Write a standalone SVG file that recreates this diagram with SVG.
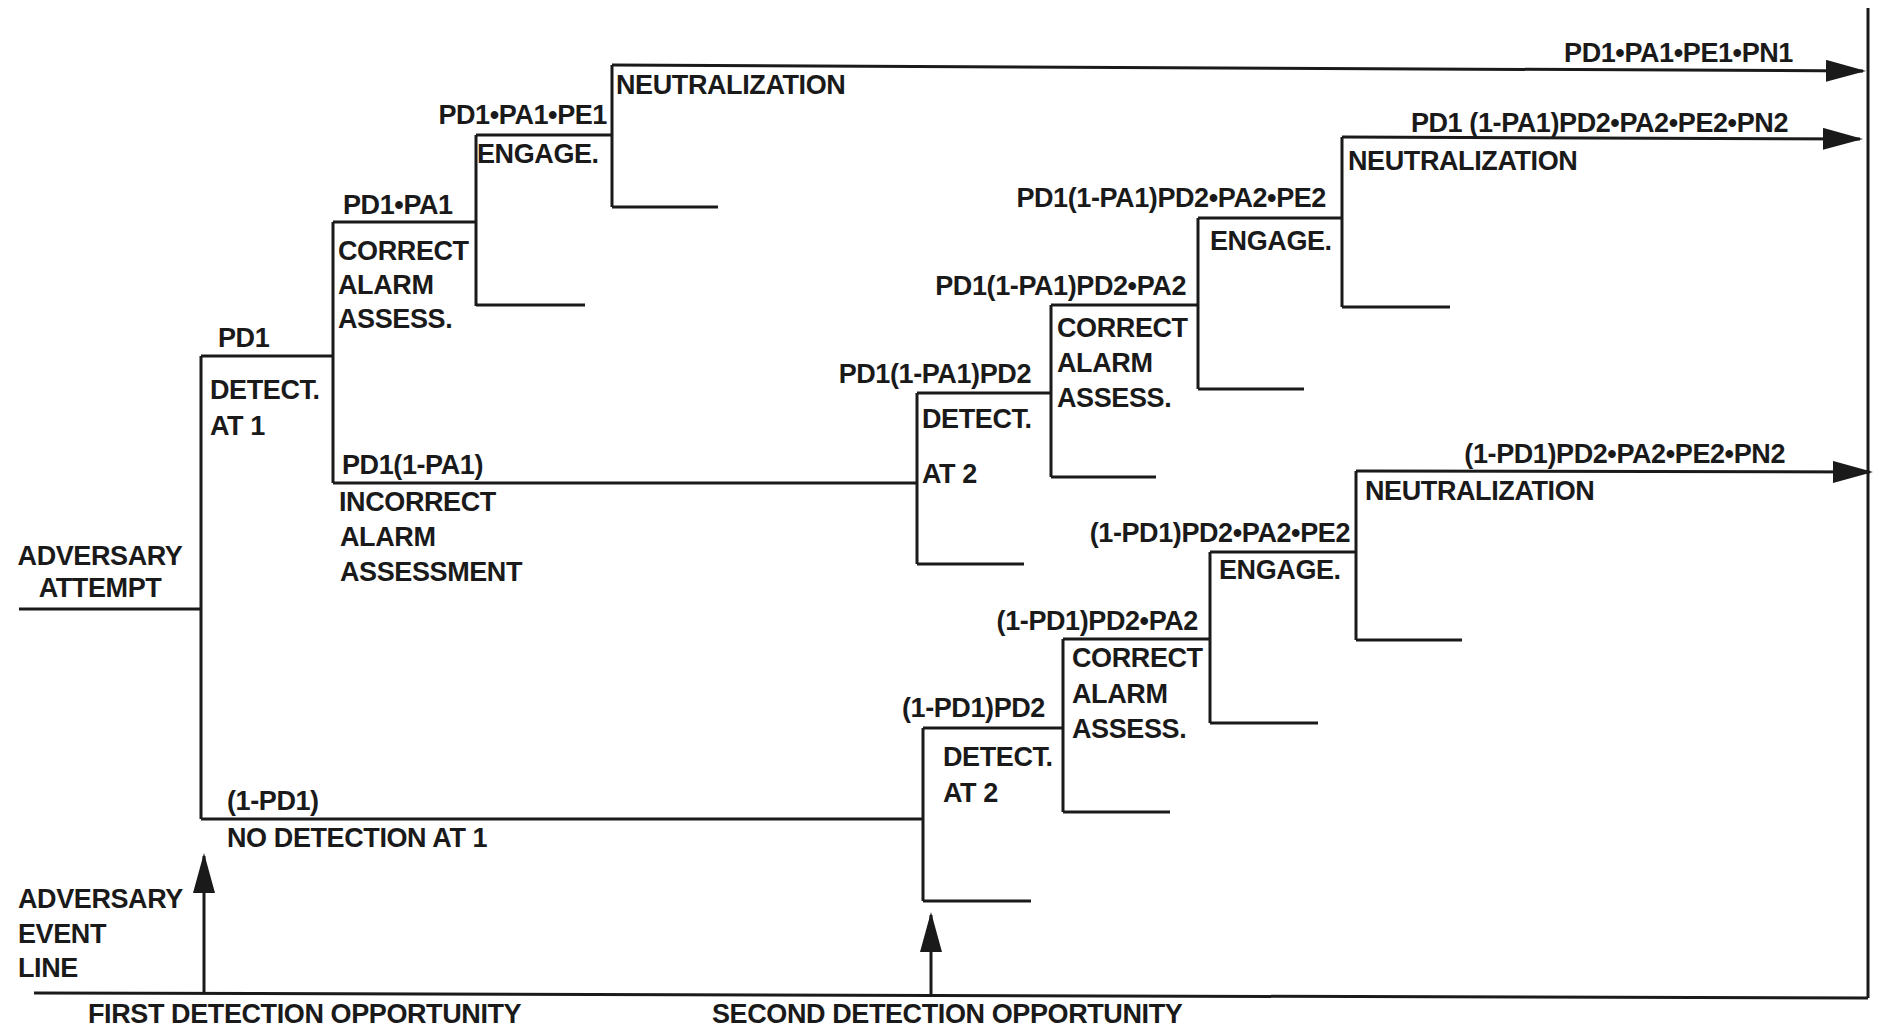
<svg xmlns="http://www.w3.org/2000/svg" width="1881" height="1029" viewBox="0 0 1881 1029">
<defs>
<marker id="arr" markerUnits="userSpaceOnUse" markerWidth="40" markerHeight="22" refX="37" refY="11" orient="auto">
<path d="M0,0 L40,11 L0,22 Z" fill="#1a1a1a"/>
</marker>
<style>
text{font-family:"Liberation Sans",Arial,sans-serif;font-weight:bold;font-size:27px;letter-spacing:-0.4px;fill:#1a1a1a}
.e{text-anchor:end}
.m{text-anchor:middle}
.ln{fill:none;stroke:#1a1a1a;stroke-width:3}
.ar{fill:none;stroke:#1a1a1a;stroke-width:3;marker-end:url(#arr)}
</style>
</defs>
<rect width="1881" height="1029" fill="#ffffff"/>
<g id="connectors">
<path class="ln" d="M19,609 H201 M201,356 V819 M201,356 H333 M333,222 V483 M333,222 H476 M476,135 V306 M476,135 H612 M612,65 V207 M612,207 H718 M476,305 H585"/>
<path class="ar" d="M612,65 L1863,71"/>
<path class="ln" d="M333,483 H917 M917,393 V564 M917,393 H1051 M917,564 H1024 M1051,305 V477 M1051,305 H1198 M1051,477 H1156 M1198,218 V389 M1198,218 H1342 M1198,389 H1304 M1342,137 V307 M1342,307 H1450"/>
<path class="ar" d="M1342,137 L1860,139"/>
<path class="ln" d="M201,819 H923 M923,728 V901 M923,728 H1063 M923,901 H1031 M1063,639 V812 M1063,639 H1210 M1063,812 H1170 M1210,552 V723 M1210,552 H1356 M1210,723 H1318 M1356,471 V640 M1356,640 H1462"/>
<path class="ar" d="M1356,471 L1870,472"/>
<path class="ln" d="M1868,8 V998 M34,993 L1868,998"/>
<path class="ar" d="M204,993 V856"/>
<path class="ar" d="M931,995 V915"/>
</g>
<g id="attempt">
<text class="m" x="100" y="565">ADVERSARY</text>
<text class="m" x="100" y="597">ATTEMPT</text>
</g>
<g id="detect1">
<text x="218" y="347">PD1</text>
<text x="210" y="399">DETECT.</text>
<text x="210" y="435">AT 1</text>
</g>
<g id="assess1">
<text x="343" y="214">PD1•PA1</text>
<text x="338" y="260">CORRECT</text>
<text x="338" y="294">ALARM</text>
<text x="338" y="328">ASSESS.</text>
</g>
<g id="engage1">
<text class="e" x="607" y="124">PD1•PA1•PE1</text>
<text x="477" y="163">ENGAGE.</text>
</g>
<g id="neutral1">
<text x="616" y="94">NEUTRALIZATION</text>
<text class="e" x="1793" y="62">PD1•PA1•PE1•PN1</text>
</g>
<g id="incorrect1">
<text x="342" y="474">PD1(1-PA1)</text>
<text x="339" y="511">INCORRECT</text>
<text x="340" y="546">ALARM</text>
<text x="340" y="581">ASSESSMENT</text>
</g>
<g id="detect2a">
<text class="e" x="1031" y="383">PD1(1-PA1)PD2</text>
<text x="922" y="428">DETECT.</text>
<text x="922" y="483">AT 2</text>
</g>
<g id="assess2a">
<text class="e" x="1186" y="295">PD1(1-PA1)PD2•PA2</text>
<text x="1057" y="337">CORRECT</text>
<text x="1057" y="372">ALARM</text>
<text x="1057" y="407">ASSESS.</text>
</g>
<g id="engage2a">
<text class="e" x="1326" y="207">PD1(1-PA1)PD2•PA2•PE2</text>
<text x="1210" y="250">ENGAGE.</text>
</g>
<g id="neutral2a">
<text class="e" x="1788" y="132">PD1 (1-PA1)PD2•PA2•PE2•PN2</text>
<text x="1348" y="170">NEUTRALIZATION</text>
</g>
<g id="nodetect1">
<text x="227" y="810">(1-PD1)</text>
<text x="227" y="847">NO DETECTION AT 1</text>
</g>
<g id="detect2b">
<text class="e" x="1045" y="717">(1-PD1)PD2</text>
<text x="943" y="766">DETECT.</text>
<text x="943" y="802">AT 2</text>
</g>
<g id="assess2b">
<text class="e" x="1198" y="630">(1-PD1)PD2•PA2</text>
<text x="1072" y="667">CORRECT</text>
<text x="1072" y="703">ALARM</text>
<text x="1072" y="738">ASSESS.</text>
</g>
<g id="engage2b">
<text class="e" x="1350" y="542">(1-PD1)PD2•PA2•PE2</text>
<text x="1219" y="579">ENGAGE.</text>
</g>
<g id="neutral2b">
<text class="e" x="1785" y="463">(1-PD1)PD2•PA2•PE2•PN2</text>
<text x="1365" y="500">NEUTRALIZATION</text>
</g>
<g id="eventline">
<text x="18" y="908">ADVERSARY</text>
<text x="18" y="943">EVENT</text>
<text x="18" y="977">LINE</text>
<text x="88" y="1023">FIRST DETECTION OPPORTUNITY</text>
<text x="712" y="1023">SECOND DETECTION OPPORTUNITY</text>
</g>
</svg>
